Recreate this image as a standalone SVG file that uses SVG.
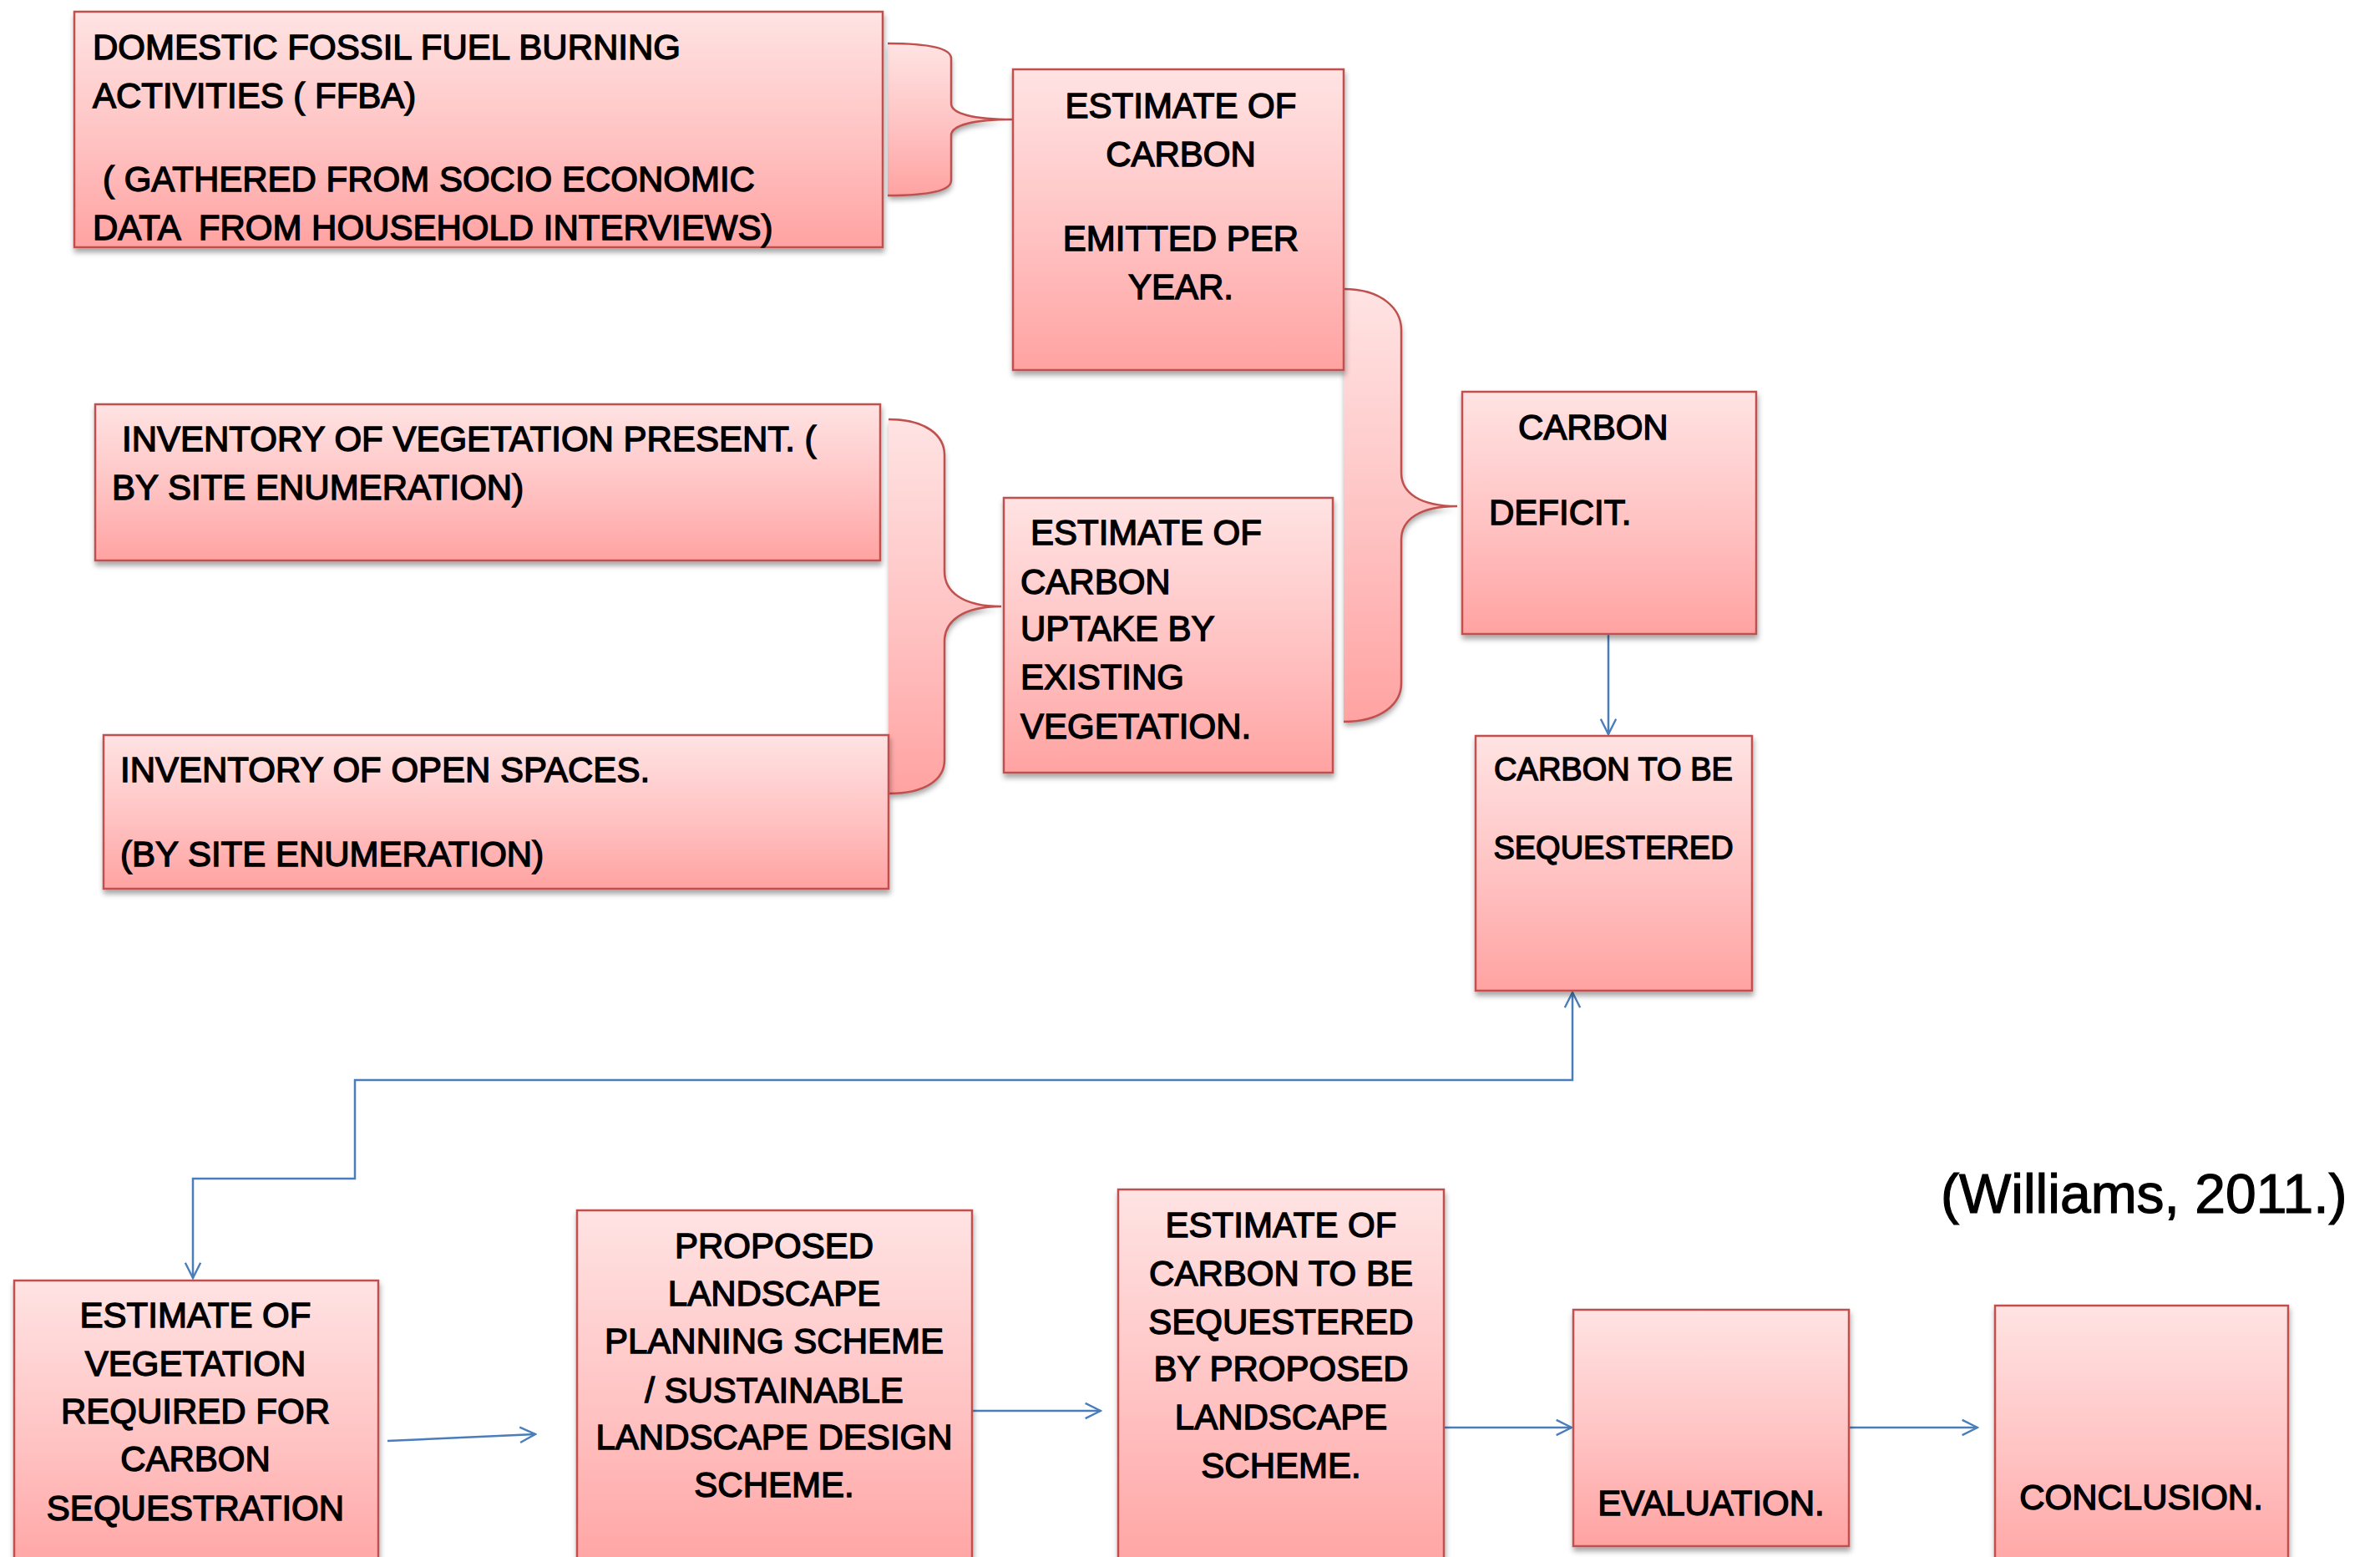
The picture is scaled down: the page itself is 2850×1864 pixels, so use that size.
<svg xmlns="http://www.w3.org/2000/svg" width="2850" height="1864" viewBox="0 0 2850 1864">
<defs>
<linearGradient id="g" x1="0" y1="0" x2="0" y2="1">
<stop offset="0" stop-color="#ffe3e3"/>
<stop offset="0.55" stop-color="#ffc2c2"/>
<stop offset="1" stop-color="#ffa3a2"/>
</linearGradient>
<filter id="sh" x="-5%" y="-5%" width="110%" height="115%">
<feDropShadow dx="1" dy="5" stdDeviation="3" flood-color="#000" flood-opacity="0.35"/>
</filter>
<marker id="ah" viewBox="0 0 12 12" refX="11" refY="6" markerWidth="22" markerHeight="22" markerUnits="userSpaceOnUse" orient="auto-start-reverse">
<path d="M1,1 L11,6 L1,11" fill="none" stroke="#4a7ebb" stroke-width="1.3"/>
</marker>
</defs>
<style>
.box{fill:url(#g);stroke:#c0504d;stroke-width:2.5;filter:url(#sh)}
.brace{fill:url(#g);stroke:none;filter:url(#sh)}
.bedge{fill:none;stroke:#c0504d;stroke-width:2.5}
.t{font-family:"Liberation Sans",Arial,sans-serif;font-size:42px;fill:#000;stroke:#000;stroke-width:1.4}
.c{text-anchor:middle}
.s{font-size:38px}
.con{fill:none;stroke:#4a7ebb;stroke-width:2.5}
</style>
<rect width="2850" height="1864" fill="#fff"/>

<g id="braces">
<path class="brace" d="M1063,52 C1115,52 1139,58 1139,70 L1139,124 C1139,136 1165,143 1213,143 C1165,143 1139,150 1139,162 L1139,216 C1139,228 1115,234 1063,234 Z"/>
<path class="bedge" d="M1063,52 C1115,52 1139,58 1139,70 L1139,124 C1139,136 1165,143 1213,143 C1165,143 1139,150 1139,162 L1139,216 C1139,228 1115,234 1063,234"/>
<path class="brace" d="M1609,346 C1655,346 1678,370 1678,395 L1678,566 C1678,590 1700,606 1745,606 C1700,606 1678,622 1678,646 L1678,818 C1678,842 1655,864 1609,864 Z"/>
<path class="bedge" d="M1609,346 C1655,346 1678,370 1678,395 L1678,566 C1678,590 1700,606 1745,606 C1700,606 1678,622 1678,646 L1678,818 C1678,842 1655,864 1609,864"/>
<path class="brace" d="M1064,502 C1110,502 1131,522 1131,545 L1131,684 C1131,708 1152,726 1199,726 C1152,726 1131,744 1131,768 L1131,910 C1131,932 1110,950 1064,950 Z"/>
<path class="bedge" d="M1064,502 C1110,502 1131,522 1131,545 L1131,684 C1131,708 1152,726 1199,726 C1152,726 1131,744 1131,768 L1131,910 C1131,932 1110,950 1064,950"/>
</g>

<g id="connectors">
<path class="con" d="M1926,759 L1926,879" marker-end="url(#ah)"/>
<path class="con" d="M1883,1188 L1883,1293 L425,1293 L425,1411 L231,1411 L231,1530" marker-start="url(#ah)" marker-end="url(#ah)"/>
<path class="con" d="M464,1725 L641,1717" marker-end="url(#ah)"/>
<path class="con" d="M1164,1689 L1318,1689" marker-end="url(#ah)"/>
<path class="con" d="M1729,1709 L1882,1709" marker-end="url(#ah)"/>
<path class="con" d="M2214,1709 L2368,1709" marker-end="url(#ah)"/>
</g>

<g id="node-ffba">
<rect class="box" x="89" y="14" width="968" height="282"/>
<text class="t" x="111" y="71">DOMESTIC FOSSIL FUEL BURNING</text>
<text class="t" x="111" y="129">ACTIVITIES ( FFBA)</text>
<text class="t" x="123" y="229">( GATHERED FROM SOCIO ECONOMIC</text>
<text class="t" x="111" y="287" xml:space="preserve">DATA  FROM HOUSEHOLD INTERVIEWS)</text>
</g>

<g id="node-emitted">
<rect class="box" x="1213" y="83" width="396" height="360"/>
<text class="t c" x="1414" y="141">ESTIMATE OF</text>
<text class="t c" x="1414" y="199">CARBON</text>
<text class="t c" x="1414" y="300">EMITTED PER</text>
<text class="t c" x="1414" y="358">YEAR.</text>
</g>

<g id="node-vegetation-inventory">
<rect class="box" x="114" y="484" width="940" height="187"/>
<text class="t" x="146" y="540">INVENTORY OF VEGETATION PRESENT. (</text>
<text class="t" x="134" y="598">BY SITE ENUMERATION)</text>
</g>

<g id="node-open-spaces">
<rect class="box" x="124" y="880" width="940" height="184"/>
<text class="t" x="144" y="936">INVENTORY OF OPEN SPACES.</text>
<text class="t" x="144" y="1037">(BY SITE ENUMERATION)</text>
</g>

<g id="node-uptake">
<rect class="box" x="1202" y="596" width="394" height="329"/>
<text class="t" x="1234" y="652">ESTIMATE OF</text>
<text class="t" x="1222" y="711">CARBON</text>
<text class="t" x="1222" y="767">UPTAKE BY</text>
<text class="t" x="1222" y="825">EXISTING</text>
<text class="t" x="1222" y="884">VEGETATION.</text>
</g>

<g id="node-deficit">
<rect class="box" x="1751" y="469" width="352" height="290"/>
<text class="t" x="1818" y="526">CARBON</text>
<text class="t" x="1783" y="628">DEFICIT.</text>
</g>

<g id="node-to-sequester">
<rect class="box" x="1767" y="881" width="331" height="305"/>
<text class="t c s" x="1932" y="934">CARBON TO BE</text>
<text class="t c s" x="1932" y="1028">SEQUESTERED</text>
</g>

<g id="node-vegetation-required">
<rect class="box" x="17" y="1533" width="436" height="360"/>
<text class="t c" x="234" y="1589">ESTIMATE OF</text>
<text class="t c" x="234" y="1647">VEGETATION</text>
<text class="t c" x="234" y="1704">REQUIRED FOR</text>
<text class="t c" x="234" y="1761">CARBON</text>
<text class="t c" x="234" y="1820">SEQUESTRATION</text>
</g>

<g id="node-proposed">
<rect class="box" x="691" y="1449" width="473" height="440"/>
<text class="t c" x="927" y="1506">PROPOSED</text>
<text class="t c" x="927" y="1563">LANDSCAPE</text>
<text class="t c" x="927" y="1620">PLANNING SCHEME</text>
<text class="t c" x="927" y="1679">/ SUSTAINABLE</text>
<text class="t c" x="927" y="1735">LANDSCAPE DESIGN</text>
<text class="t c" x="927" y="1792">SCHEME.</text>
</g>

<g id="node-estimate-proposed">
<rect class="box" x="1339" y="1424" width="390" height="465"/>
<text class="t c" x="1534" y="1481">ESTIMATE OF</text>
<text class="t c" x="1534" y="1539">CARBON TO BE</text>
<text class="t c" x="1534" y="1597">SEQUESTERED</text>
<text class="t c" x="1534" y="1653">BY PROPOSED</text>
<text class="t c" x="1534" y="1711">LANDSCAPE</text>
<text class="t c" x="1534" y="1769">SCHEME.</text>
</g>

<g id="node-evaluation">
<rect class="box" x="1884" y="1568" width="330" height="283"/>
<text class="t c" x="2049" y="1814">EVALUATION.</text>
</g>

<g id="node-conclusion">
<rect class="box" x="2389" y="1563" width="351" height="330"/>
<text class="t c" x="2564" y="1807">CONCLUSION.</text>
</g>

<text x="2324" y="1452" font-family="Liberation Sans, Arial, sans-serif" font-size="66" fill="#000" stroke="#000" stroke-width="1.2">(Williams, 2011.)</text>
</svg>
